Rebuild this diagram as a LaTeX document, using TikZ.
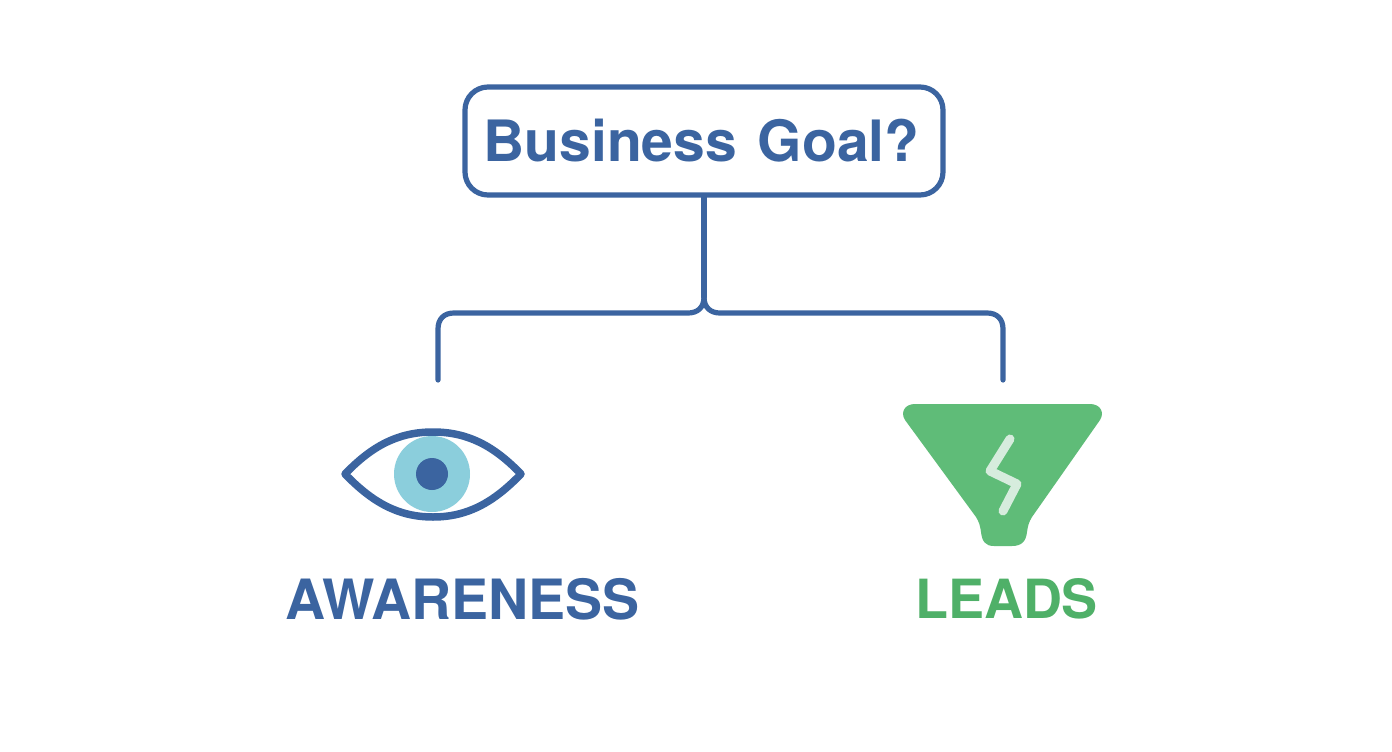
\documentclass[tikz,border=0pt]{standalone}
\usepackage{fontspec}
\setmainfont{TeX Gyre Heros}
\definecolor{bblue}{HTML}{3B64A0}
\definecolor{iris}{HTML}{8BCEDC}
\definecolor{fgreen}{HTML}{5FBC78}
\definecolor{lgreen}{HTML}{4FB068}
\definecolor{bolt}{HTML}{D6ECDD}
\tikzset{
  wire/.style={draw=bblue,line width=5.2pt,line cap=round},
  goalbox/.style={draw=bblue,line width=5.2pt,rounded corners=23pt,minimum width=478pt,minimum height=108pt,inner sep=0pt,fill=white,text=bblue,font=\fontsize{57}{60}\selectfont\bfseries},
  biglabel/.style={inner sep=0pt,font=\fontsize{55.5}{60}\selectfont\bfseries}
}
\begin{document}
\begin{tikzpicture}[x=1pt,y=-1pt]
\useasboundingbox (0,0) rectangle (1392,752);
\fill[white] (0,0) rectangle (1392,752);
\node[goalbox] (goal) at (704,141) {Business\hspace{5pt} Goal?\kern5pt};
\coordinate (split) at (704,297);
\coordinate (endL) at (438,380);
\coordinate (endR) at (1003,380);
\draw[wire] (goal.south) -- (split);
\draw[wire] (split) .. controls (704,308) and (697,313) .. (688,313) -- (454,313) .. controls (444,313) and (438,319) .. (438,329) -- (endL);
\draw[wire] (split) .. controls (704,308) and (711,313) .. (720,313) -- (987,313) .. controls (997,313) and (1003,319) .. (1003,329) -- (endR);
% eye
\fill[iris] (432,474) circle (38);
\draw[bblue,line width=7.5pt,line join=round] (345,474) .. controls (372,446) and (398,432) .. (433,432) .. controls (468,432) and (494,446) .. (521,474) .. controls (494,502) and (468,517) .. (433,517) .. controls (398,517) and (372,502) .. (345,474) -- cycle;
\fill[bblue] (432,474) circle (16);
% funnel
\fill[fgreen] (915,404) -- (1090,404) .. controls (1100,404) and (1105,412) .. (1100,420) -- (1032,517) .. controls (1029,522) and (1028,525) .. (1027,532) .. controls (1026,541) and (1022,546) .. (1012,546) -- (994,546) .. controls (985,546) and (982,541) .. (981,532) .. controls (980,525) and (979,522) .. (976,517) -- (905,420) .. controls (900,412) and (905,404) .. (915,404) -- cycle;
\draw[bolt,line width=9pt,line cap=round,line join=round] (1010,439) -- (990,471) -- (1017,484) -- (1003,511);
\node[biglabel,text=bblue] (aw) at (462.5,599) {AWARENESS};
\node[biglabel,text=lgreen,font=\fontsize{54}{60}\selectfont\bfseries] (le) at (1006.5,599) {LEADS};
\end{tikzpicture}
\end{document}
